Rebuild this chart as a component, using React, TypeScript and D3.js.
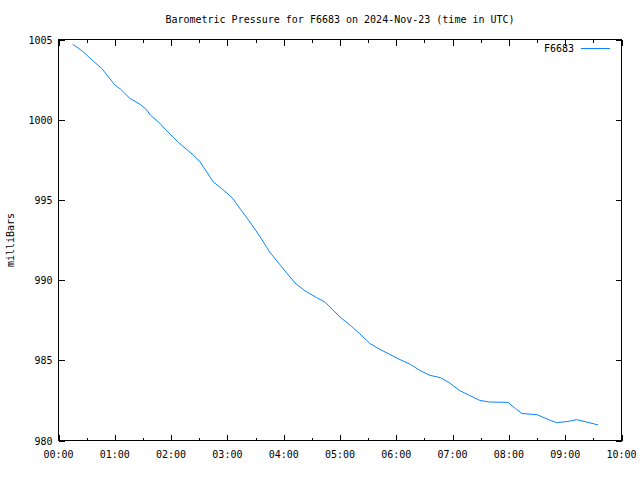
import React from "react";
import * as d3 from "d3";

const minutes = [15, 23, 28, 37, 46, 55, 60, 66, 76, 87, 94, 98, 108, 114, 128, 144, 151, 158, 165, 174, 185, 194, 204, 215, 225, 238, 252, 263, 275, 284, 292, 300, 311, 321, 332, 343, 353, 364, 375, 385, 396, 407, 417, 427, 438, 449, 459, 479, 487, 494, 510, 524, 531, 543, 552, 563, 575];
const pressure = [1004.70, 1004.39, 1004.14, 1003.66, 1003.20, 1002.54, 1002.17, 1001.91, 1001.33, 1000.96, 1000.61, 1000.28, 999.78, 999.38, 998.57, 997.78, 997.36, 996.74, 996.12, 995.70, 995.14, 994.41, 993.62, 992.69, 991.75, 990.82, 989.82, 989.32, 988.91, 988.63, 988.16, 987.70, 987.18, 986.66, 986.04, 985.67, 985.37, 985.04, 984.75, 984.37, 984.06, 983.92, 983.58, 983.13, 982.81, 982.50, 982.40, 982.38, 981.99, 981.68, 981.61, 981.26, 981.11, 981.19, 981.30, 981.15, 980.97];
const xTickLabels = ["00:00", "01:00", "02:00", "03:00", "04:00", "05:00", "06:00", "07:00", "08:00", "09:00", "10:00"];
const yTicks = [980, 985, 990, 995, 1000, 1005];
const title = "Barometric Pressure for F6683 on 2024-Nov-23 (time in UTC)";
const seriesName = "F6683";
const yLabel = "milliBars";

export default function App() {
  const W = 640, H = 480;
  const L = 58.5, R = 621.5, T = 39.5, B = 440.5;
  const x = d3.scaleLinear().domain([0, 600]).range([L, R]);
  const y = d3.scaleLinear().domain([980, 1005]).range([B, T]);
  const data = minutes.map((m, i) => [m, pressure[i]] as [number, number]);
  const line = d3.line<[number, number]>().x(d => x(d[0])).y(d => y(d[1]));
  const font = "'DejaVu Sans Mono', 'Liberation Mono', monospace";
  const color = "#0a84ff";
  const majorX = d3.range(0, 601, 60);
  const minorX = d3.range(30, 600, 60);
  return (
    <svg width={W} height={H} style={{ position: "absolute", left: 0, top: 0, background: "#fff" }} fontFamily={font} fontSize={10}>
      <rect x={0} y={0} width={W} height={H} fill="#fff" />
      <text x={(L + R) / 2} y={23} textAnchor="middle">{title}</text>
      <g stroke="#000" strokeWidth={1} shapeRendering="crispEdges">
        {majorX.map(m => (
          <g key={"M" + m}>
            <line x1={Math.round(x(m)) + 0.5} x2={Math.round(x(m)) + 0.5} y1={B} y2={B - 6} />
            <line x1={Math.round(x(m)) + 0.5} x2={Math.round(x(m)) + 0.5} y1={T} y2={T + 6} />
          </g>
        ))}
        {minorX.map(m => (
          <g key={"m" + m}>
            <line x1={Math.round(x(m)) + 0.5} x2={Math.round(x(m)) + 0.5} y1={B} y2={B - 3} />
            <line x1={Math.round(x(m)) + 0.5} x2={Math.round(x(m)) + 0.5} y1={T} y2={T + 3} />
          </g>
        ))}
        {yTicks.map(v => (
          <g key={"y" + v}>
            <line x1={L} x2={L + 6} y1={Math.round(y(v)) + 0.5} y2={Math.round(y(v)) + 0.5} />
            <line x1={R} x2={R - 6} y1={Math.round(y(v)) + 0.5} y2={Math.round(y(v)) + 0.5} />
          </g>
        ))}
        <rect x={L} y={T} width={R - L} height={B - T} fill="none" />
      </g>
      {majorX.map((m, i) => (
        <text key={"xl" + m} x={x(m)} y={B + 17} textAnchor="middle">{xTickLabels[i]}</text>
      ))}
      {yTicks.map(v => (
        <text key={"yl" + v} x={L - 6} y={y(v) + 4} textAnchor="end">{v}</text>
      ))}
      <text transform={`translate(14,${(T + B) / 2}) rotate(-90)`} textAnchor="middle">{yLabel}</text>
      <path d={line(data) || ""} fill="none" stroke={color} strokeWidth={1} />
      <text x={574} y={52} textAnchor="end">{seriesName}</text>
      <line x1={581} x2={610} y1={48.5} y2={48.5} stroke={color} strokeWidth={1} />
    </svg>
  );
}
